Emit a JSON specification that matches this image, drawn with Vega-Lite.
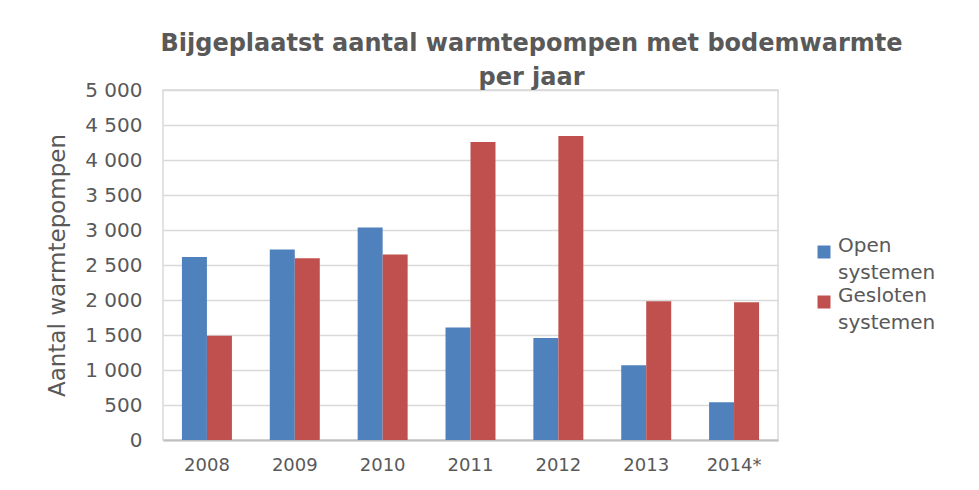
{
  "$schema": "https://vega.github.io/schema/vega-lite/v6.json",
  "width": 615,
  "height": 350,
  "autosize": {"type": "none"},
  "padding": {"left": 163, "top": 90, "right": 201, "bottom": 50},
  "background": "white",
  "title": {
    "text": ["Bijgeplaatst aantal warmtepompen met bodemwarmte", "per jaar"],
    "anchor": "middle",
    "frame": "group",
    "dx": 61,
    "offset": -29,
    "font": "DejaVu Sans",
    "fontSize": 24,
    "fontWeight": "bold",
    "color": "#595959",
    "lineHeight": 34,
    "baseline": "alphabetic"
  },
  "data": {
    "values": [
      {"year": "2008", "type": "Open systemen", "value": 2615},
      {"year": "2008", "type": "Gesloten systemen", "value": 1490},
      {"year": "2009", "type": "Open systemen", "value": 2720},
      {"year": "2009", "type": "Gesloten systemen", "value": 2595},
      {"year": "2010", "type": "Open systemen", "value": 3035},
      {"year": "2010", "type": "Gesloten systemen", "value": 2650},
      {"year": "2011", "type": "Open systemen", "value": 1608},
      {"year": "2011", "type": "Gesloten systemen", "value": 4258},
      {"year": "2012", "type": "Open systemen", "value": 1458},
      {"year": "2012", "type": "Gesloten systemen", "value": 4342},
      {"year": "2013", "type": "Open systemen", "value": 1067},
      {"year": "2013", "type": "Gesloten systemen", "value": 1982},
      {"year": "2014*", "type": "Open systemen", "value": 538},
      {"year": "2014*", "type": "Gesloten systemen", "value": 1968}
    ]
  },
  "mark": {"type": "bar"},
  "encoding": {
    "x": {
      "field": "year",
      "type": "nominal",
      "sort": null,
      "scale": {"paddingInner": 0.431, "paddingOuter": 0.2155},
      "axis": {
        "title": null,
        "labelAngle": 0,
        "ticks": false,
        "domain": true,
        "domainColor": "#bfbfbf",
        "domainWidth": 2,
        "labelFont": "DejaVu Sans",
        "labelFontSize": 18,
        "labelColor": "#595959",
        "labelPadding": 16
      }
    },
    "xOffset": {
      "field": "type",
      "type": "nominal",
      "sort": ["Open systemen", "Gesloten systemen"],
      "scale": {"paddingInner": 0, "paddingOuter": 0}
    },
    "y": {
      "field": "value",
      "type": "quantitative",
      "scale": {"domain": [0, 5000], "nice": false},
      "axis": {
        "title": "Aantal warmtepompen",
        "titleFont": "DejaVu Sans",
        "titleFontSize": 23,
        "titleFontWeight": "normal",
        "titleColor": "#595959",
        "titlePadding": 15,
        "values": [0, 500, 1000, 1500, 2000, 2500, 3000, 3500, 4000, 4500, 5000],
        "labelExpr": "replace(format(datum.value, ','), ',', ' ')",
        "labelFont": "DejaVu Sans",
        "labelFontSize": 20,
        "labelColor": "#595959",
        "labelPadding": 21,
        "ticks": false,
        "domain": false,
        "grid": true,
        "gridColor": "#d9d9d9",
        "gridWidth": 1.5
      }
    },
    "color": {
      "field": "type",
      "type": "nominal",
      "sort": ["Open systemen", "Gesloten systemen"],
      "scale": {"domain": ["Open systemen", "Gesloten systemen"], "range": ["#4F81BD", "#C0504D"]},
      "legend": {
        "title": null,
        "orient": "none",
        "legendX": 651,
        "legendY": 152,
        "padding": 0,
        "symbolType": "square",
        "symbolSize": 169,
        "symbolStrokeWidth": 0,
        "labelExpr": "split(datum.label, ' ')",
        "labelFont": "DejaVu Sans",
        "labelFontSize": 20,
        "labelColor": "#595959",
        "labelOffset": 4,
        "labelBaseline": "alphabetic",
        "rowPadding": 3
      }
    }
  },
  "config": {
    "view": {"stroke": "#d9d9d9", "strokeWidth": 1.5},
    "style": {"guide-label": {"lineHeight": 27}}
  }
}
